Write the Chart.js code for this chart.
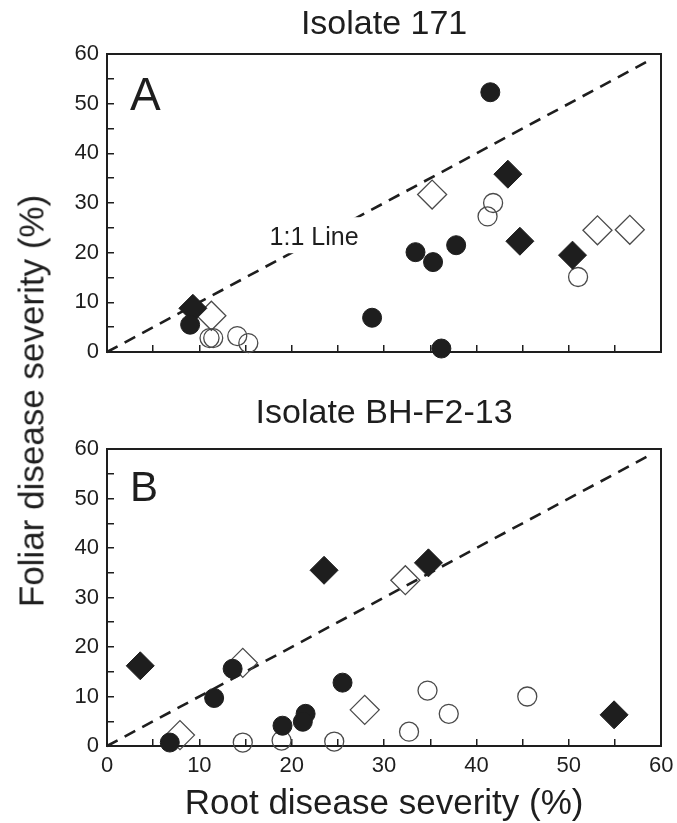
<!DOCTYPE html>
<html><head><meta charset="utf-8">
<script src="https://cdn.jsdelivr.net/npm/chart.js@4.4.1/dist/chart.umd.min.js"></script>
<style>
html,body{margin:0;padding:0;background:#fff;width:677px;height:823px;overflow:hidden;}
#wrapA{position:absolute;left:0;top:0;width:677px;height:375px;}
#wrapB{position:absolute;left:0;top:380px;width:677px;height:443px;}
#ytitle{position:absolute;left:30.8px;top:401px;transform:translate(-50%,-50%) rotate(-90deg);font-family:'Liberation Sans',Arial,sans-serif;font-size:35px;line-height:35px;color:#1e1e1e;white-space:nowrap;}
</style></head>
<body>
<div id="wrapA"><canvas id="cA" width="677" height="375"></canvas></div>
<div id="wrapB"><canvas id="cB" width="677" height="443"></canvas></div>
<div id="ytitle">Foliar disease severity (%)</div>
<script>
// ---------- data ----------
const tickValues = [0, 10, 20, 30, 40, 50, 60];
const xAxisTitle = 'Root disease severity (%)';

// Panel A: Isolate 171
const titleA = 'Isolate 171';
const aFilledCircleX = [9.0, 28.7, 41.5, 33.4, 35.3, 37.8, 36.2];
const aFilledCircleY = [5.5, 6.9, 52.3, 20.1, 18.1, 21.5, 0.7];
const aOpenCircleX = [11.1, 11.5, 14.1, 15.3, 41.8, 41.2, 51.0];
const aOpenCircleY = [2.8, 2.8, 3.2, 1.8, 30.0, 27.3, 15.1];
const aFilledDiamondX = [9.3, 43.4, 44.7, 50.4];
const aFilledDiamondY = [8.8, 35.8, 22.3, 19.5];
const aOpenDiamondX = [11.3, 35.2, 53.1, 56.6];
const aOpenDiamondY = [7.3, 31.7, 24.5, 24.6];

// Panel B: Isolate BH-F2-13
const titleB = 'Isolate BH-F2-13';
const bFilledCircleX = [13.6, 11.6, 25.5, 21.5, 21.2, 19.0, 6.8];
const bFilledCircleY = [15.6, 9.7, 12.8, 6.5, 4.9, 4.1, 0.7];
const bOpenCircleX = [14.7, 18.9, 24.6, 34.7, 37.0, 32.7, 45.5];
const bOpenCircleY = [0.7, 1.1, 0.9, 11.2, 6.5, 2.9, 10.0];
const bFilledDiamondX = [3.6, 23.5, 34.8, 54.9];
const bFilledDiamondY = [16.2, 35.5, 37.0, 6.3];
const bOpenDiamondX = [14.7, 27.9, 7.9, 32.3];
const bOpenDiamondY = [16.8, 7.3, 2.2, 33.5];

// 1:1 line
const lineX = [0, 58.5];
const lineY = [0, 58.5];

// ---------- drawing ----------
const FONT = "'Liberation Sans', Arial, Helvetica, sans-serif";
const INK = '#1e1e1e';
const OPEN = '#4a4a4a';

function pts(xs, ys) { return xs.map((x, i) => ({ x: x, y: ys[i] })); }

function makeDatasets(fcx, fcy, fdx, fdy, ocx, ocy, odx, ody) {
  return [
    { data: pts(fcx, fcy), pointStyle: 'circle', pointRadius: 9.5, backgroundColor: INK, borderColor: INK, borderWidth: 1 },
    { data: pts(fdx, fdy), pointStyle: 'rectRot', pointRadius: 14, backgroundColor: INK, borderColor: INK, borderWidth: 1 },
    { data: pts(ocx, ocy), pointStyle: 'circle', pointRadius: 9.5, backgroundColor: 'rgba(0,0,0,0)', borderColor: OPEN, borderWidth: 1.3 },
    { data: pts(odx, ody), pointStyle: 'rectRot', pointRadius: 14.5, backgroundColor: 'rgba(0,0,0,0)', borderColor: OPEN, borderWidth: 1.3 },
    { type: 'line', data: pts(lineX, lineY), borderColor: INK, borderWidth: 2.6, borderDash: [12, 8], pointRadius: 0, fill: false }
  ].map(d => Object.assign({ clip: false }, d));
}

const textLabels = {
  id: 'textLabels',
  afterDatasetsDraw(chart, args, opts) {
    const ctx = chart.ctx, x = chart.scales.x, y = chart.scales.y;
    (opts.items || []).forEach(it => {
      ctx.save();
      ctx.font = it.size + 'px ' + FONT;
      ctx.textAlign = 'left';
      ctx.textBaseline = 'alphabetic';
      const px = x.getPixelForValue(it.x), py = y.getPixelForValue(it.y);
      if (it.mask) {
        const w = ctx.measureText(it.text).width;
        ctx.fillStyle = '#fff';
        ctx.fillRect(px - 4, py - 28, w + 8, 36);
      }
      ctx.fillStyle = INK;
      ctx.fillText(it.text, px, py);
      ctx.restore();
    });
  }
};

function labelCb(v) { return tickValues.includes(v) ? String(v) : ''; }
function noPad(s) { s.paddingLeft = 0; s.paddingRight = 0; s.paddingTop = 0; s.paddingBottom = 0; }

function makeOptions(title, titlePad, showX, xHeight, items) {
  return {
    responsive: false,
    animation: false,
    events: [],
    layout: { padding: { left: 0, right: 13, top: 0, bottom: 0 } },
    plugins: {
      legend: { display: false },
      tooltip: { enabled: false },
      title: { display: true, text: title, fullSize: false, color: INK,
               font: { family: FONT, size: 34, weight: 'normal', lineHeight: 1.2 }, padding: titlePad },
      textLabels: { items: items }
    },
    scales: {
      x: {
        type: 'linear', position: 'bottom', min: 0, max: 60,
        afterFit(s) { s.height = xHeight; noPad(s); },
        ticks: { stepSize: 5, autoSkip: false, maxRotation: 0, display: showX, padding: 13.4,
                 color: INK, font: { family: FONT, size: 22 }, callback: labelCb },
        grid: { display: true, drawOnChartArea: false, drawTicks: true, tickLength: -7, color: INK, lineWidth: 1.5 },
        border: { display: true, color: INK, width: 2 },
        title: { display: showX, text: xAxisTitle, color: INK,
                 font: { family: FONT, size: 35, lineHeight: 1 }, padding: { top: 0, bottom: 1.5 } }
      },
      y: {
        type: 'linear', position: 'left', min: 0, max: 60,
        afterFit(s) { s.width = 107; noPad(s); },
        ticks: { stepSize: 5, autoSkip: false, padding: 15, color: INK,
                 font: { family: FONT, size: 22 }, callback: labelCb },
        grid: { display: true, drawOnChartArea: false, drawTicks: true, tickLength: -7, color: INK, lineWidth: 1.5 },
        border: { display: true, color: INK, width: 2 }
      },
      x2: {
        type: 'linear', position: 'top', min: 0, max: 60,
        afterFit(s) { s.height = 0; noPad(s); },
        ticks: { display: false }, grid: { display: false },
        border: { display: true, color: INK, width: 2 }
      },
      y2: {
        type: 'linear', position: 'right', min: 0, max: 60,
        afterFit(s) { s.width = 0; noPad(s); },
        ticks: { display: false }, grid: { display: false },
        border: { display: true, color: INK, width: 2 }
      }
    }
  };
}

new Chart(document.getElementById('cA'), {
  type: 'scatter',
  data: { datasets: makeDatasets(aFilledCircleX, aFilledCircleY, aFilledDiamondX, aFilledDiamondY,
                                 aOpenCircleX, aOpenCircleY, aOpenDiamondX, aOpenDiamondY) },
  options: makeOptions(titleA, { top: 3.8, bottom: 9.4 }, false, 23, [
    { text: 'A', x: 2.48, y: 48.7, size: 46 },
    { text: '1:1 Line', x: 17.6, y: 21.5, size: 25, mask: true }
  ]),
  plugins: [textLabels]
});

new Chart(document.getElementById('cB'), {
  type: 'scatter',
  data: { datasets: makeDatasets(bFilledCircleX, bFilledCircleY, bFilledDiamondX, bFilledDiamondY,
                                 bOpenCircleX, bOpenCircleY, bOpenDiamondX, bOpenDiamondY) },
  options: makeOptions(titleB, { top: 12.9, bottom: 15.3 }, true, 77, [
    { text: 'B', x: 2.5, y: 49.4, size: 42 }
  ]),
  plugins: [textLabels]
});
</script>
</body></html>
